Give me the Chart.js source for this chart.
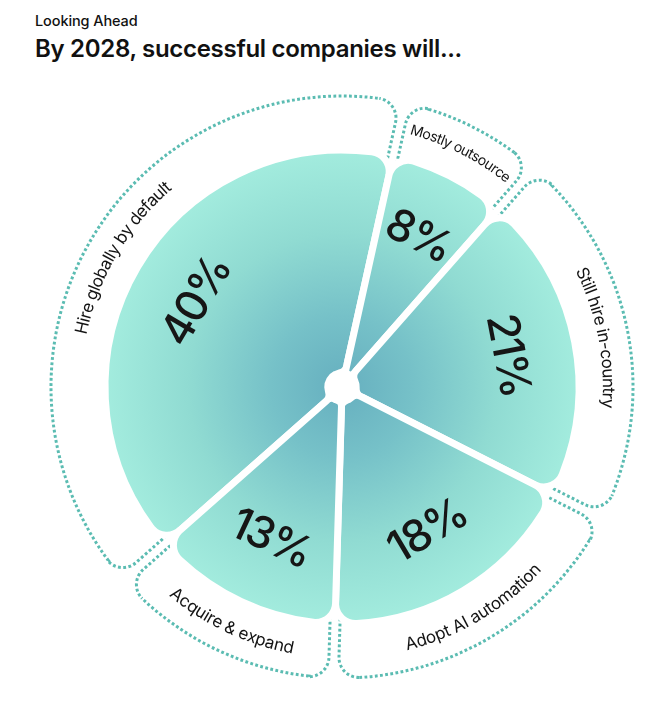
<!DOCTYPE html>
<html>
<head>
<meta charset="utf-8">
<script src="https://cdn.jsdelivr.net/npm/chart.js@4.4.0/dist/chart.umd.min.js"></script>
<style>
  html, body { margin: 0; padding: 0; background: #fff; }
  body { width: 667px; height: 728px; position: relative; overflow: hidden; font-family: Inter, 'Noto Sans', sans-serif; color: #111; }
  #antetitulo { position: absolute; left: 35px; top: 12px; font-size: 14.5px; font-weight: 500; letter-spacing: -0.1px; }
  #titulo { position: absolute; left: 35px; top: 34px; font-size: 24px; font-weight: 600; letter-spacing: -0.3px; }
  canvas { position: absolute; left: 0; top: 0; }
</style>
</head>
<body>
<div id="antetitulo">Looking Ahead</div>
<div id="titulo">By 2028, successful companies will...</div>
<canvas id="grafica" width="667" height="728"></canvas>
<script>
const etiquetas = ['Hire globally by default', 'Mostly outsource', 'Still hire in-country', 'Adopt AI automation', 'Acquire & expand'];
const valores = [40, 8, 21, 18, 13];
const textosPct = ['40%', '8%', '21%', '18%', '13%'];

const RADIO = 237;        // radio del pastel
const RADIO_CAJA = 291;   // borde exterior de las cajas punteadas
const RADIO_TEXTO = 266;  // linea media de las etiquetas curvas

// degradado radial desde el centro
function degradado(context) {
  const chart = context.chart;
  const area = chart.chartArea;
  if (!area) return '#8fd8d0';
  const cx = (area.left + area.right) / 2;
  const cy = (area.top + area.bottom) / 2;
  const g = chart.ctx.createRadialGradient(cx, cy, 0, cx, cy, RADIO);
  g.addColorStop(0, '#66afbf');
  g.addColorStop(0.3, '#76c1c8');
  g.addColorStop(0.65, '#90dbd2');
  g.addColorStop(1, '#a3ecde');
  return g;
}

function trazarCaja(ctx, cx, cy, a0, a1, rIn, rOut, sep, rc) {
  const u0 = [Math.cos(a0), Math.sin(a0)], n0 = [-Math.sin(a0), Math.cos(a0)];
  const u1 = [Math.cos(a1), Math.sin(a1)], n1 = [Math.sin(a1), -Math.cos(a1)];
  const rs = Math.sqrt(rOut * rOut - sep * sep);
  const p = (u, n, r) => [cx + u[0] * r + n[0] * sep, cy + u[1] * r + n[1] * sep];
  const c0 = p(u0, n0, rs);
  const c1 = p(u1, n1, rs);
  const b0 = a0 + Math.asin(sep / rOut);
  const b1 = a1 - Math.asin(sep / rOut);
  const t0 = [-Math.sin(b0), Math.cos(b0)];
  const s = p(u0, n0, rIn);
  const e = p(u1, n1, rIn);
  ctx.beginPath();
  ctx.moveTo(s[0], s[1]);
  ctx.arcTo(c0[0], c0[1], c0[0] + t0[0] * rc * 2, c0[1] + t0[1] * rc * 2, rc);
  ctx.arc(cx, cy, rOut, b0 + rc / rOut, b1 - rc / rOut);
  ctx.arcTo(c1[0], c1[1], e[0], e[1], rc);
  ctx.lineTo(e[0], e[1]);
}

function textoCurvo(ctx, texto, cx, cy, r, mid, span, arriba) {
  let size = 17;
  const track = -0.4;
  const ancho = () => ctx.measureText(texto).width + track * (texto.length - 1);
  ctx.save();
  ctx.font = `400 ${size}px Inter`;
  let total = ancho();
  const disponible = span * r - 22;
  if (total > disponible) {
    size = size * disponible / total;
    ctx.font = `400 ${size}px Inter`;
    total = ancho();
  }
  ctx.fillStyle = '#141414';
  ctx.textAlign = 'center';
  ctx.textBaseline = 'middle';
  const dir = arriba ? 1 : -1;
  const inicio = mid - dir * total / (2 * r);
  for (let k = 0; k < texto.length; k++) {
    const antes = ctx.measureText(texto.slice(0, k)).width + track * k;
    const w = ctx.measureText(texto[k]).width;
    const a = inicio + dir * (antes + w / 2) / r;
    ctx.save();
    ctx.translate(cx + Math.cos(a) * r, cy + Math.sin(a) * r);
    ctx.rotate(arriba ? a + Math.PI / 2 : a - Math.PI / 2);
    ctx.fillText(texto[k], 0, 0);
    ctx.restore();
  }
  ctx.restore();
}

const cajasPlugin = {
  id: 'cajas',
  beforeDatasetsDraw(chart) {
    const ctx = chart.ctx;
    const arcs = chart.getDatasetMeta(0).data;
    ctx.save();
    ctx.strokeStyle = '#5bbcb2';
    ctx.lineWidth = 3;
    ctx.setLineDash([2.8, 2.4]);
    arcs.forEach(arc => {
      const { x, y, startAngle, endAngle, outerRadius } = arc.getProps(['x', 'y', 'startAngle', 'endAngle', 'outerRadius'], true);
      trazarCaja(ctx, x, y, startAngle, endAngle, outerRadius * 0.75, RADIO_CAJA, 5, 20);
      ctx.stroke();
    });
    ctx.restore();
  }
};

const textosPlugin = {
  id: 'textos',
  afterDatasetsDraw(chart) {
    const ctx = chart.ctx;
    const arcs = chart.getDatasetMeta(0).data;
    arcs.forEach((arc, i) => {
      const { x, y, startAngle, endAngle, outerRadius } = arc.getProps(['x', 'y', 'startAngle', 'endAngle', 'outerRadius'], true);
      const mid = (startAngle + endAngle) / 2;
      const arriba = Math.sin(mid) < 0.05;
      const rp = outerRadius * 0.71;
      ctx.save();
      ctx.translate(x + Math.cos(mid) * rp, y + Math.sin(mid) * rp);
      ctx.rotate(arriba ? mid + Math.PI / 2 : mid - Math.PI / 2);
      ctx.font = '500 44px Inter';
      ctx.letterSpacing = '-2px';
      ctx.fillStyle = '#161616';
      ctx.textAlign = 'center';
      ctx.textBaseline = 'middle';
      ctx.fillText(textosPct[i], 0, 0);
      ctx.restore();
      textoCurvo(ctx, etiquetas[i], x, y, RADIO_TEXTO, mid, endAngle - startAngle, arriba);
    });
  }
};

const ctx = document.getElementById('grafica').getContext('2d');
const chart = new Chart(ctx, {
  type: 'doughnut',
  data: {
    labels: etiquetas,
    datasets: [{
      data: valores,
      backgroundColor: degradado,
      borderColor: '#ffffff',
      borderWidth: 7,
      borderRadius: { outerStart: 20, outerEnd: 20, innerStart: 10, innerEnd: 10 },
      radius: RADIO,
      cutout: 17
    }]
  },
  options: {
    responsive: false,
    animation: false,
    events: [],
    rotation: -131.5,
    layout: { padding: { left: 17, right: 0, top: 100, bottom: 54 } },
    plugins: {
      legend: { display: false },
      tooltip: { enabled: false },
      title: { display: false }
    }
  },
  plugins: [cajasPlugin, textosPlugin]
});
</script>
</body>
</html>
